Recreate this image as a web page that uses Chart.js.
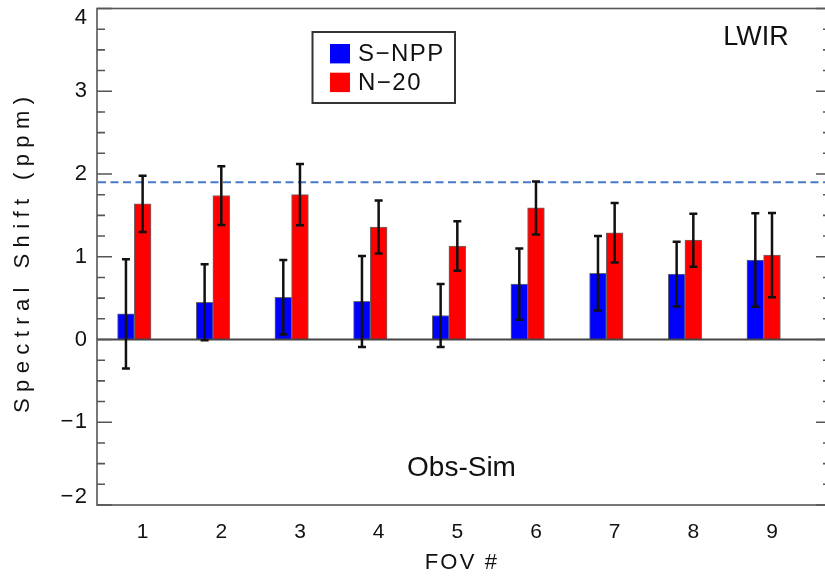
<!DOCTYPE html>
<html>
<head>
<meta charset="utf-8">
<script src="https://cdn.jsdelivr.net/npm/chart.js@4/dist/chart.umd.min.js"></script>
<style>
  html, body { margin: 0; padding: 0; overflow: hidden; background: #fff; }
  canvas { display: block; }
</style>
</head>
<body>
<canvas id="c" width="835" height="578"></canvas>
<script>
// Spectral shift per field of view, LWIR band (Obs-Sim)
const fov = [1, 2, 3, 4, 5, 6, 7, 8, 9];
const snpp = [0.31, 0.45, 0.51, 0.46, 0.29, 0.67, 0.80, 0.79, 0.96];
const snppErr = [0.66, 0.46, 0.45, 0.55, 0.38, 0.43, 0.45, 0.39, 0.565];
const n20 = [1.64, 1.74, 1.75, 1.36, 1.13, 1.59, 1.29, 1.20, 1.02];
const n20Err = [0.34, 0.355, 0.37, 0.32, 0.30, 0.32, 0.36, 0.32, 0.51];
const yTicks = [-2, -1, 0, 1, 2, 3, 4];
const reference = 1.9;

const SERIES_SHIFT = -0.212; // S-NPP bar sits just left of each FOV
const TEXT = '#111';
const FRAME = '#555';
const FONT = '"Liberation Sans", Arial, sans-serif';

function fmt(v) { return String(v).replace('-', '\u2212'); }

const overlay = {
  id: 'overlay',
  beforeDatasetsDraw(chart) {
    const { ctx, chartArea: a, scales: { y } } = chart;
    const py = y.getPixelForValue(reference);
    ctx.save();
    ctx.strokeStyle = '#4a78c8';
    ctx.lineWidth = 2;
    ctx.setLineDash([8, 4.5]);
    ctx.beginPath();
    ctx.moveTo(a.left + 1, py);
    ctx.lineTo(a.right, py);
    ctx.stroke();
    ctx.restore();
  },
  afterDatasetsDraw(chart) {
    const { ctx, chartArea: a, scales: { y } } = chart;
    ctx.save();

    // zero line
    const p0 = y.getPixelForValue(0);
    ctx.strokeStyle = '#444';
    ctx.lineWidth = 2;
    ctx.beginPath();
    ctx.moveTo(a.left, p0);
    ctx.lineTo(a.right, p0);
    ctx.stroke();

    // error bars
    const errs = [snppErr, n20Err];
    chart.data.datasets.forEach((ds, di) => {
      const meta = chart.getDatasetMeta(di);
      meta.data.forEach((bar, i) => {
        const v = ds.data[i].y;
        const e = errs[di][i];
        const top = y.getPixelForValue(v + e);
        const bot = y.getPixelForValue(v - e);
        ctx.strokeStyle = '#111';
        ctx.lineWidth = 2.5;
        ctx.beginPath();
        ctx.moveTo(bar.x, top);
        ctx.lineTo(bar.x, bot);
        ctx.moveTo(bar.x - 4, top);
        ctx.lineTo(bar.x + 4, top);
        ctx.moveTo(bar.x - 4, bot);
        ctx.lineTo(bar.x + 4, bot);
        ctx.stroke();
      });
    });

    // frame
    ctx.strokeStyle = FRAME;
    ctx.lineWidth = 1.6;
    ctx.strokeRect(a.left, a.top, a.right - a.left, a.bottom - a.top);

    // y ticks (major + minor) on both sides
    for (let k = 0; k <= (yTicks.length - 1) * 4; k++) {
      const v = yTicks[0] + k * 0.25;
      const py = y.getPixelForValue(v);
      const len = (k % 4 === 0) ? 15 : 8;
      ctx.beginPath();
      ctx.moveTo(a.left, py);
      ctx.lineTo(a.left + len, py);
      ctx.moveTo(a.right, py);
      ctx.lineTo(a.right - len, py);
      ctx.stroke();
    }

    // y tick labels
    ctx.fillStyle = TEXT;
    ctx.font = '22px ' + FONT;
    ctx.letterSpacing = '1.5px';
    ctx.textAlign = 'right';
    ctx.textBaseline = 'middle';
    yTicks.forEach(v => {
      let py = y.getPixelForValue(v);
      py = Math.min(Math.max(py, a.top + 9), a.bottom - 8);
      ctx.fillText(fmt(v), a.left - 8.5, py);
    });

    // axis titles
    ctx.textAlign = 'center';
    ctx.font = '22px ' + FONT;
    ctx.letterSpacing = '6.4px';
    ctx.save();
    ctx.translate(23, 255);
    ctx.rotate(-Math.PI / 2);
    ctx.fillText('Spectral Shift (ppm)', 3.2, 0);
    ctx.restore();

    ctx.font = '22px ' + FONT;
    ctx.letterSpacing = '2.2px';
    ctx.fillText('FOV #', 462, 563);

    // annotations
    ctx.letterSpacing = '0px';
    ctx.font = '27px ' + FONT;
    ctx.fillText('LWIR', 756, 38);
    ctx.font = '28px ' + FONT;
    ctx.fillText('Obs-Sim', 461.5, 468);

    // legend
    ctx.strokeStyle = '#333';
    ctx.lineWidth = 2;
    ctx.strokeRect(312.5, 32, 142.5, 71);
    ctx.textAlign = 'left';
    ctx.font = '24px ' + FONT;
    ctx.letterSpacing = '1.5px';
    chart.data.datasets.forEach((ds, di) => {
      const cy = 53.7 + di * 28.7;
      ctx.fillStyle = ds.backgroundColor;
      ctx.fillRect(330, cy - 9.7, 20, 19.4);
      ctx.fillStyle = TEXT;
      ctx.fillText(ds.label, 358, cy + 1);
    });

    ctx.restore();
  }
};

new Chart(document.getElementById('c'), {
  type: 'bar',
  data: {
    datasets: [
      {
        label: 'S\u2212NPP',
        data: fov.map((f, i) => ({ x: f + SERIES_SHIFT, y: snpp[i] })),
        backgroundColor: '#0000ff',
        borderColor: '#6a6a6a',
        borderWidth: 1
      },
      {
        label: 'N\u221220',
        data: fov.map((f, i) => ({ x: f, y: n20[i] })),
        backgroundColor: '#ff0000',
        borderColor: '#6a6a6a',
        borderWidth: 1
      }
    ]
  },
  options: {
    responsive: false,
    animation: false,
    devicePixelRatio: 1,
    layout: { padding: { left: 0, top: 8.5, right: 4, bottom: 0 } },
    datasets: { bar: { grouped: false, barThickness: 16.8 } },
    plugins: { legend: { display: false }, tooltip: { enabled: false } },
    scales: {
      x: {
        type: 'linear',
        offset: false,
        min: 0.42,
        max: 9.75,
        afterBuildTicks: s => { s.ticks = fov.map(v => ({ value: v })); },
        afterFit: s => { s.height = 73; },
        grid: { display: false, drawTicks: false },
        border: { display: false },
        ticks: {
          color: TEXT,
          padding: 15,
          font: { family: FONT, size: 21 },
          callback: v => String(v)
        }
      },
      y: {
        min: -2,
        max: 4,
        afterFit: s => { s.width = 97; },
        grid: { display: false, drawTicks: false },
        border: { display: false },
        ticks: { display: false }
      }
    }
  },
  plugins: [overlay]
});
</script>
</body>
</html>
